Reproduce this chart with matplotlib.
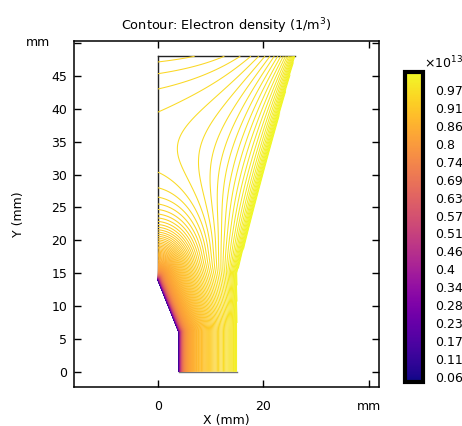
import numpy as np
import matplotlib
matplotlib.use("Agg")
import matplotlib.pyplot as plt
from matplotlib.path import Path
from matplotlib import colors, cm

plt.rcParams["font.family"] = "DejaVu Sans"
plt.rcParams["font.size"] = 9

# geometry (mm)
outline_x = [0, 0, 4, 4, 15, 15, 26, 0]
outline_y = [48, 14, 6, 0, 0, 15, 48, 48]
cathode_x = [0, 4, 4]
cathode_y = [14, 6, 0]
anode_x = [15, 15, 26]
anode_y = [0, 15, 48]
top_y = 48

# density scale (1e13 1/m^3)
n_min, n_max = 0.06, 0.97
n_levels = 300
cbar_range = (0.044, 1.027)
cbar_labels = ["0.06", "0.11", "0.17", "0.23", "0.28", "0.34", "0.4", "0.46",
               "0.51", "0.57", "0.63", "0.69", "0.74", "0.8", "0.86", "0.91",
               "0.97"]

# field model, in units of one contour step
plateau = 278
anode_amp = [6, 13, 3]
anode_len = [0.8, 4.8, 20]
cathode_amp = [213, 68]
cathode_len = [0.45, 4.5]
top_amp, top_len = 5.5, 8


def seg_dist(px, py, x0, y0, x1, y1):
    dx, dy = x1 - x0, y1 - y0
    t = np.clip(((px - x0) * dx + (py - y0) * dy) / (dx * dx + dy * dy), 0, 1)
    return np.hypot(px - x0 - t * dx, py - y0 - t * dy)


def poly_dist(px, py, xs, ys):
    return np.min([seg_dist(px, py, xs[i], ys[i], xs[i + 1], ys[i + 1])
                   for i in range(len(xs) - 1)], axis=0)


xg = np.linspace(-0.2, 26.2, 500)
yg = np.linspace(-0.2, 48.2, 900)
X, Y = np.meshgrid(xg, yg)

d_c = poly_dist(X, Y, cathode_x, cathode_y)
d_a = poly_dist(X, Y, anode_x, anode_y)
V = float(plateau)
V = V + sum(a * np.exp(-d_a / l) for a, l in zip(anode_amp, anode_len))
V = V - sum(a * np.exp(-d_c / l) for a, l in zip(cathode_amp, cathode_len))
V = V - top_amp * np.exp(-(top_y - Y) / top_len)
V = np.clip(V, 0, n_levels - 1)
ne = n_min + (n_max - n_min) * V / (n_levels - 1)

domain = Path(np.column_stack([outline_x, outline_y]))
pts = np.column_stack([X.ravel(), Y.ravel()])
inside = (domain.contains_points(pts, radius=-0.05)
          | domain.contains_points(pts, radius=0.05)).reshape(X.shape)
ne = np.ma.array(ne, mask=~inside)

levels = np.linspace(n_min, n_max, n_levels)
norm = colors.Normalize(vmin=n_min, vmax=n_max)

fig = plt.figure(figsize=(4.62, 4.26), dpi=100)
ax = fig.add_axes([74 / 462, 39 / 426, 305 / 462, 346 / 426])

ax.plot(outline_x[:2], outline_y[:2], color="#222222", lw=1.0)
ax.plot([0, 26], [48, 48], color="#222222", lw=1.0)
ax.plot([4, 15], [0, 0], color="#777777", lw=1.0)
ax.contour(X, Y, ne, levels=levels, cmap="plasma", norm=norm,
           linewidths=0.75)

ax.set_xlim(-15.9, 41.9)
ax.set_ylim(-2.3, 50.3)
ax.set_xticks([0, 20, 40])
ax.set_xticklabels(["0", "20", "mm"])
ax.set_yticks(np.arange(0, 51, 5))
ax.set_yticklabels([str(v) for v in range(0, 50, 5)] + [""])
ax.tick_params(direction="in", top=True, right=True, length=5, width=1,
               labelsize=9)
ax.tick_params(axis="x", pad=9)
ax.tick_params(axis="y", pad=5)
for s in ax.spines.values():
    s.set_linewidth(1.1)
ax.set_xlabel("X (mm)", labelpad=1)
ax.set_ylabel("Y (mm)", labelpad=19)
ax.set_title("Contour: Electron density (1/m$^3$)", fontsize=9.3, pad=8)
fig.text(38 / 462, 1 - 42 / 426, "mm", ha="center", va="center", fontsize=9)

cax = fig.add_axes([405 / 462, 44 / 426, 18 / 462, 310 / 426])
cb_norm = colors.Normalize(*cbar_range)
cb = fig.colorbar(cm.ScalarMappable(norm=cb_norm, cmap="plasma"), cax=cax)
cb.set_ticks(np.linspace(n_min, n_max, len(cbar_labels)))
cb.set_ticklabels(cbar_labels)
cb.ax.tick_params(length=0, pad=9, labelsize=9)
cb.outline.set_linewidth(3)
fig.text(443 / 462, 1 - 63 / 426, r"$\times$10$^{13}$", ha="center",
         va="center", fontsize=9)

fig.savefig("out.png", dpi=100)
